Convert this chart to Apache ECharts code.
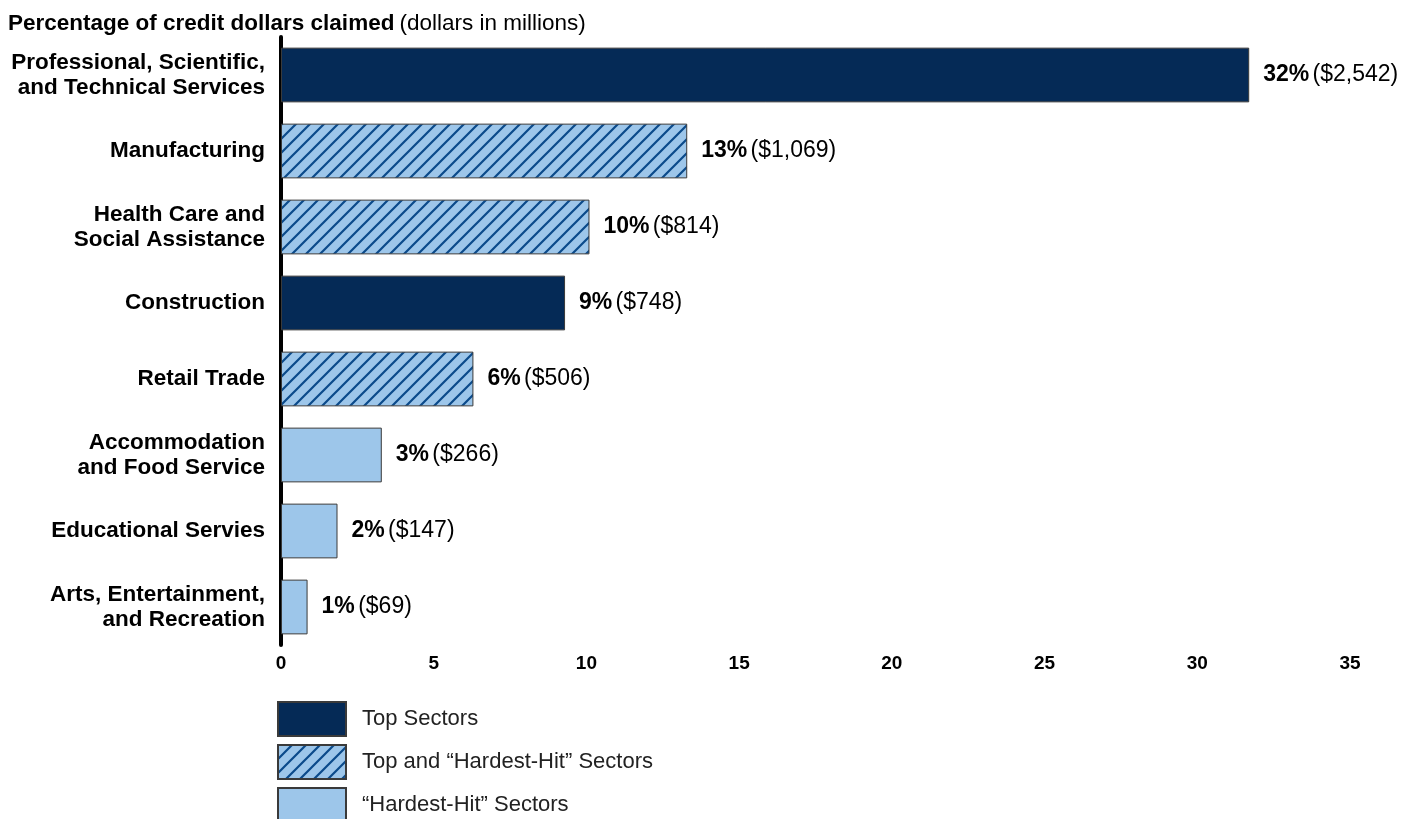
<!DOCTYPE html>
<html><head><meta charset="utf-8">
<script src="https://cdn.jsdelivr.net/npm/echarts@6/dist/echarts.min.js"></script>
<style>html,body{margin:0;padding:0;background:#fff}#c{width:1402px;height:819px}</style>
</head><body><div id="c"></div>
<script>
const categories = [
  "Professional, Scientific,\nand Technical Services",
  "Manufacturing",
  "Health Care and\nSocial Assistance",
  "Construction",
  "Retail Trade",
  "Accommodation\nand Food Service",
  "Educational Servies",
  "Arts, Entertainment,\nand Recreation"
];
const percentValues = [31.7, 13.3, 10.1, 9.3, 6.3, 3.3, 1.85, 0.87];
const percentLabels = ["32%", "13%", "10%", "9%", "6%", "3%", "2%", "1%"];
const dollarLabels = ["($2,542)", "($1,069)", "($814)", "($748)", "($506)", "($266)", "($147)", "($69)"];
const groupOf = ["top", "both", "both", "top", "both", "hard", "hard", "hard"];
const groupNames = {top: "Top Sectors", both: "Top and \u201cHardest-Hit\u201d Sectors", hard: "\u201cHardest-Hit\u201d Sectors"};
const xTicks = [0, 5, 10, 15, 20, 25, 30, 35];

const FONT = 'Liberation Sans';

// hatch pattern
const tile = document.createElement('canvas');
const T = 14;
tile.width = T; tile.height = T;
const g = tile.getContext('2d');
g.fillStyle = '#9dc6ea';
g.fillRect(0, 0, T, T);
g.strokeStyle = '#0b4a8b';
g.lineWidth = 2.2;
g.beginPath();
g.moveTo(-2, T + 2); g.lineTo(T + 2, -2);
g.moveTo(-2, 2); g.lineTo(2, -2);
g.moveTo(T - 2, T + 2); g.lineTo(T + 2, T - 2);
g.stroke();

const fills = {
  top: '#052a56',
  both: {image: tile, repeat: 'repeat'},
  hard: '#9dc6ea'
};

function seriesFor(key) {
  return {
    name: groupNames[key],
    type: 'bar',
    stack: 'all',
    barCategoryGap: '28%',
    itemStyle: {color: fills[key], borderColor: '#3a3a3a', borderWidth: 1},
    label: {
      show: true,
      position: 'right',
      distance: 14,
      formatter: p => '{b|' + percentLabels[p.dataIndex] + '} {n|' + dollarLabels[p.dataIndex] + '}',
      rich: {
        b: {fontFamily: FONT, fontSize: 23, fontWeight: 'bold', color: '#000'},
        n: {fontFamily: FONT, fontSize: 23, fontWeight: 'normal', color: '#000'}
      }
    },
    data: percentValues.map((v, i) => groupOf[i] === key ? v : '-')
  };
}

function legendFor(key, top) {
  return {
    orient: 'vertical',
    left: 272, top: top,
    itemWidth: 68, itemHeight: 34,
    icon: 'rect',
    textStyle: {fontFamily: FONT, fontSize: 22, color: '#222', padding: [0, 0, 0, 11]},
    data: [groupNames[key]]
  };
}

const chart = echarts.init(document.getElementById('c'));
chart.setOption({
  animation: false,
  title: {
    text: '{b|Percentage of credit dollars claimed} {n|(dollars in millions)}',
    left: 3, top: 7,
    textStyle: {
      fontWeight: 'normal',
      rich: {
        b: {fontFamily: FONT, fontSize: 22.5, fontWeight: 'bold', color: '#000'},
        n: {fontFamily: FONT, fontSize: 22.5, fontWeight: 'normal', color: '#000'}
      }
    }
  },
  legend: [legendFor('top', 696), legendFor('both', 739), legendFor('hard', 782)],
  grid: {left: 281, right: 52, top: 37, bottom: 174, containLabel: false},
  xAxis: {
    type: 'value', min: 0, max: 35, interval: 5,
    axisLine: {show: false}, axisTick: {show: false}, splitLine: {show: false},
    axisLabel: {fontFamily: FONT, fontSize: 19, fontWeight: 'bold', color: '#000', margin: 9,
      formatter: v => xTicks.includes(v) ? String(v) : ''}
  },
  yAxis: {
    type: 'category', inverse: true, data: categories,
    axisLine: {show: true, lineStyle: {color: '#000', width: 4}},
    axisTick: {show: false},
    axisLabel: {fontFamily: FONT, fontSize: 22.5, fontWeight: 'bold', color: '#000', margin: 16, align: 'right', lineHeight: 25}
  },
  series: [seriesFor('top'), seriesFor('both'), seriesFor('hard')]
});
</script></body></html>
